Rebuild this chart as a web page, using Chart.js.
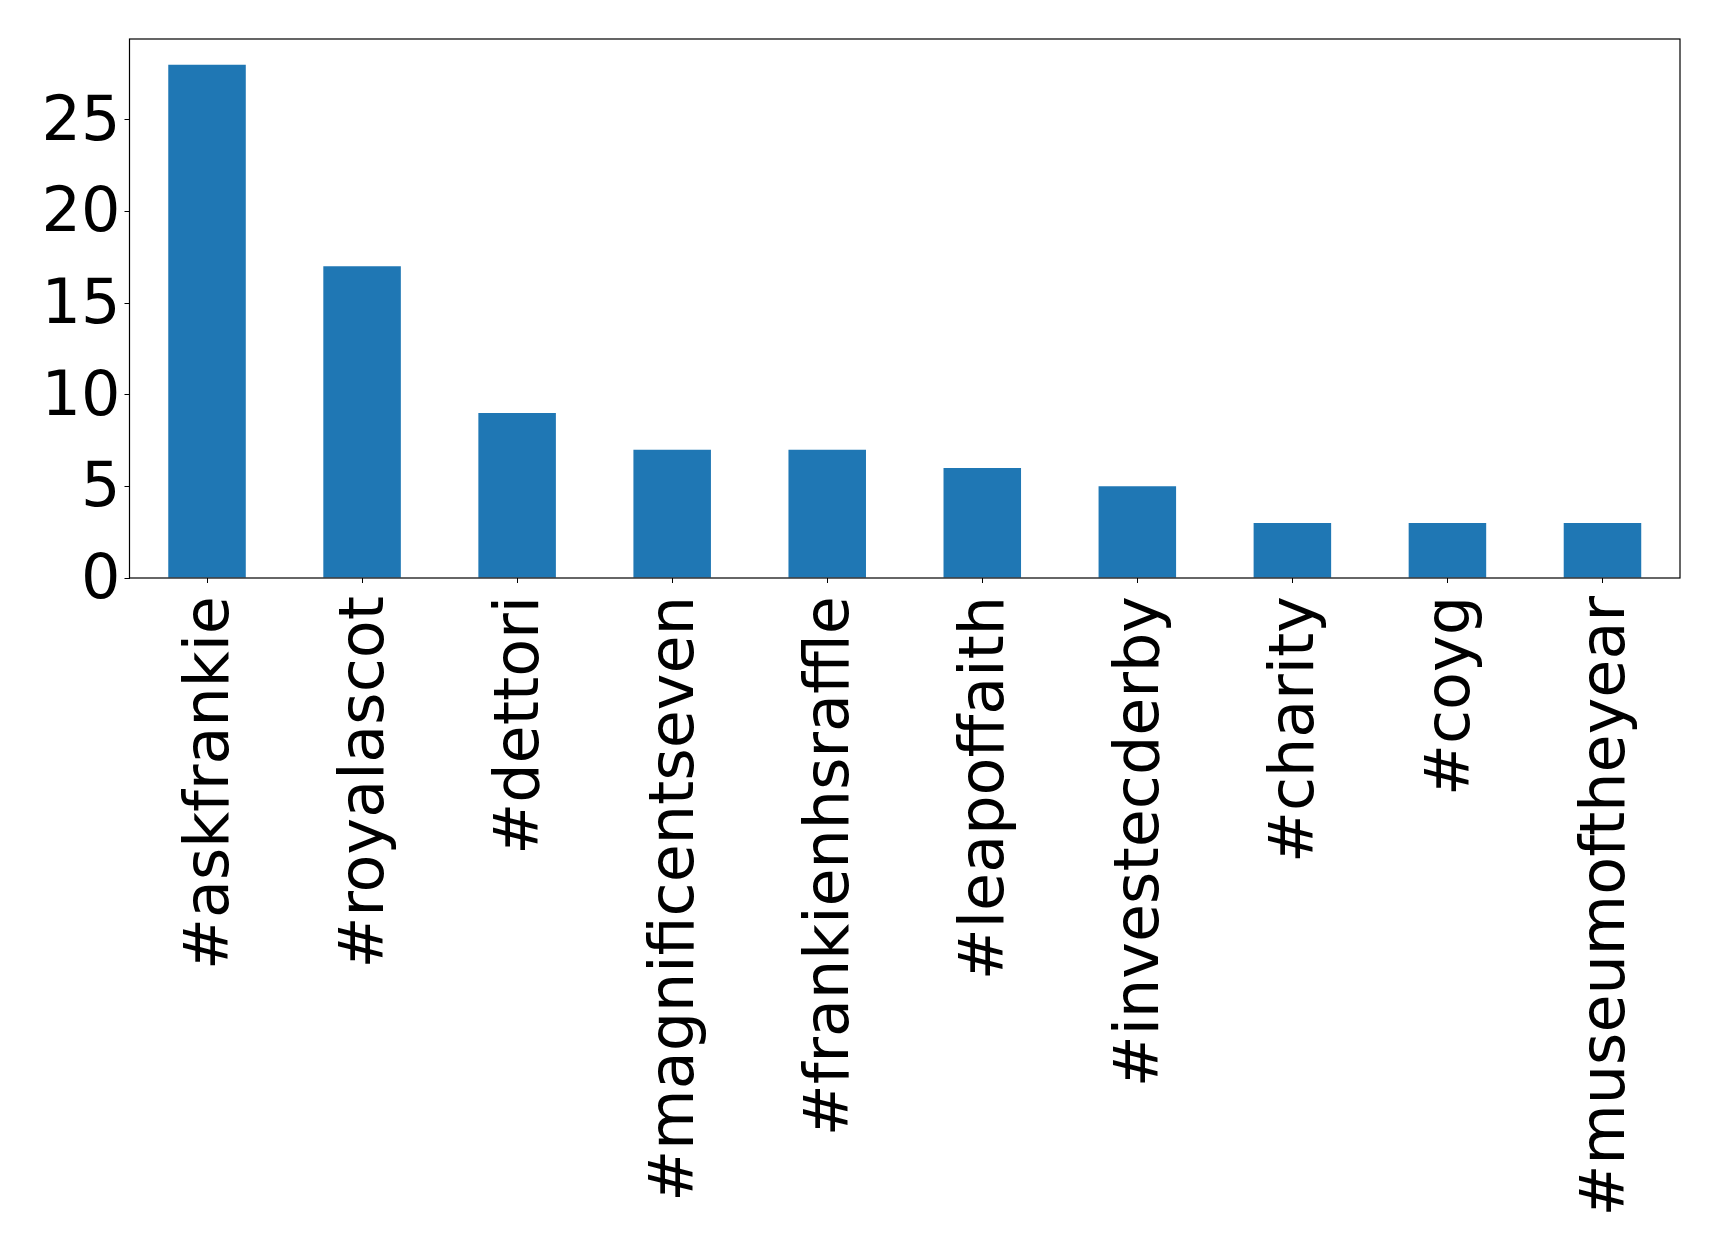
<!DOCTYPE html>
<html>
<head>
<meta charset="utf-8">
<script src="https://cdn.jsdelivr.net/npm/chart.js@4/dist/chart.umd.min.js"></script>
<style>
  html, body { margin: 0; padding: 0; background: #ffffff; }
  canvas { display: block; }
</style>
</head>
<body>
<canvas id="myChart" width="1719" height="1253"></canvas>
<script>
const hashtags = ['#askfrankie', '#royalascot', '#dettori', '#magnificentseven', '#frankienhsraffle',
                  '#leapoffaith', '#investecderby', '#charity', '#coyg', '#museumoftheyear'];
const counts = [28, 17, 9, 7, 7, 6, 5, 3, 3, 3];
const yTicks = [0, 5, 10, 15, 20, 25];

// box round the plot area (matplotlib style)
const frame = {
    id: 'frame',
    afterDatasetsDraw(chart) {
        const a = chart.chartArea;
        const c = chart.ctx;
        c.save();
        c.strokeStyle = '#000000';
        c.lineWidth = 1.2;
        c.strokeRect(a.left, a.top, a.right - a.left, a.bottom - a.top);
        c.restore();
    }
};

const ctx = document.getElementById('myChart').getContext('2d');
const myChart = new Chart(ctx, {
    type: 'bar',
    data: {
        labels: hashtags,
        datasets: [{
            data: counts,
            backgroundColor: '#1f77b4',
            borderWidth: 0
        }]
    },
    options: {
        responsive: false,
        animation: false,
        categoryPercentage: 1,
        barPercentage: 0.5,
        layout: {
            padding: { top: 39, right: 39, left: 0, bottom: 0 }
        },
        scales: {
            x: {
                grid: {
                    drawOnChartArea: false,
                    offset: false,
                    tickLength: 5,
                    color: '#000000'
                },
                border: { display: false },
                ticks: {
                    color: '#000000',
                    minRotation: 90,
                    maxRotation: 90,
                    autoSkip: false,
                    padding: 13,
                    labelOffset: 5,
                    font: { family: 'DejaVu Sans', size: 62 }
                },
                afterFit(scale) {
                    scale.height = 675;
                    scale.paddingLeft = 0;
                    scale.paddingRight = 0;
                }
            },
            y: {
                min: 0,
                max: 29.4,
                grid: {
                    drawOnChartArea: false,
                    tickLength: 5,
                    color: '#000000'
                },
                border: { display: false },
                ticks: {
                    color: '#000000',
                    padding: 4,
                    labelOffset: 4,
                    font: { family: 'DejaVu Sans', size: 62 }
                },
                afterBuildTicks(scale) { scale.ticks = yTicks.map(v => ({ value: v })); },
                afterFit(scale) {
                    scale.width = 129.5;
                    scale.paddingTop = 0;
                    scale.paddingBottom = 0;
                }
            }
        },
        plugins: {
            legend: { display: false },
            tooltip: { enabled: false }
        }
    },
    plugins: [frame]
});
</script>
</body>
</html>
